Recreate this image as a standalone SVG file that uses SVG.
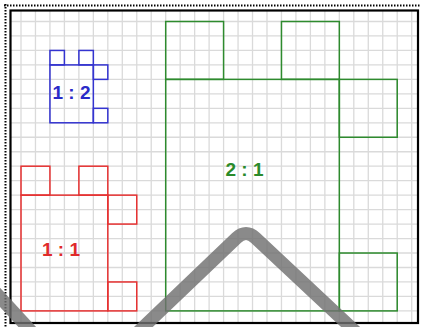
<svg xmlns="http://www.w3.org/2000/svg" width="421" height="327" viewBox="0 0 421 327">
  <style>
    .grid line { stroke: #dadada; stroke-width: 1.3; }
    .shape rect { fill: none; stroke-width: 1.5; }
    .blue rect { stroke: #3434d0; }
    .red rect { stroke: #e63232; }
    .green rect { stroke: #2e8b2e; }
    .lbl { font-family: "Liberation Sans", Arial, sans-serif; font-weight: bold; font-size: 19px; text-anchor: middle; }
    .band { fill: none; stroke: #707070; stroke-opacity: 0.82; stroke-width: 13; stroke-linecap: butt; stroke-linejoin: round; }
  </style>
  <rect x="0" y="0" width="421" height="327" fill="#ffffff"/>
  <!-- dotted outer frame (top and left) -->
  <line x1="4" y1="5.5" x2="421" y2="5.5" stroke="#000" stroke-width="2" stroke-dasharray="1.5 1.5"/>
  <line x1="5.5" y1="4" x2="5.5" y2="327" stroke="#000" stroke-width="2" stroke-dasharray="1.5 1.5"/>
  <!-- grid -->
  <g class="grid">
    <line x1="21" y1="10" x2="21" y2="323"/>
    <line x1="35.47" y1="10" x2="35.47" y2="323"/>
    <line x1="49.94" y1="10" x2="49.94" y2="323"/>
    <line x1="64.41" y1="10" x2="64.41" y2="323"/>
    <line x1="78.88" y1="10" x2="78.88" y2="323"/>
    <line x1="93.35" y1="10" x2="93.35" y2="323"/>
    <line x1="107.82" y1="10" x2="107.82" y2="323"/>
    <line x1="122.29" y1="10" x2="122.29" y2="323"/>
    <line x1="136.76" y1="10" x2="136.76" y2="323"/>
    <line x1="151.23" y1="10" x2="151.23" y2="323"/>
    <line x1="165.7" y1="10" x2="165.7" y2="323"/>
    <line x1="180.17" y1="10" x2="180.17" y2="323"/>
    <line x1="194.64" y1="10" x2="194.64" y2="323"/>
    <line x1="209.11" y1="10" x2="209.11" y2="323"/>
    <line x1="223.58" y1="10" x2="223.58" y2="323"/>
    <line x1="238.05" y1="10" x2="238.05" y2="323"/>
    <line x1="252.52" y1="10" x2="252.52" y2="323"/>
    <line x1="266.99" y1="10" x2="266.99" y2="323"/>
    <line x1="281.46" y1="10" x2="281.46" y2="323"/>
    <line x1="295.93" y1="10" x2="295.93" y2="323"/>
    <line x1="310.4" y1="10" x2="310.4" y2="323"/>
    <line x1="324.87" y1="10" x2="324.87" y2="323"/>
    <line x1="339.34" y1="10" x2="339.34" y2="323"/>
    <line x1="353.81" y1="10" x2="353.81" y2="323"/>
    <line x1="368.28" y1="10" x2="368.28" y2="323"/>
    <line x1="382.75" y1="10" x2="382.75" y2="323"/>
    <line x1="397.22" y1="10" x2="397.22" y2="323"/>
    <line x1="411.69" y1="10" x2="411.69" y2="323"/>
    <line x1="10" y1="21.5" x2="418" y2="21.5"/>
    <line x1="10" y1="35.97" x2="418" y2="35.97"/>
    <line x1="10" y1="50.44" x2="418" y2="50.44"/>
    <line x1="10" y1="64.91" x2="418" y2="64.91"/>
    <line x1="10" y1="79.38" x2="418" y2="79.38"/>
    <line x1="10" y1="93.85" x2="418" y2="93.85"/>
    <line x1="10" y1="108.32" x2="418" y2="108.32"/>
    <line x1="10" y1="122.79" x2="418" y2="122.79"/>
    <line x1="10" y1="137.26" x2="418" y2="137.26"/>
    <line x1="10" y1="151.73" x2="418" y2="151.73"/>
    <line x1="10" y1="166.2" x2="418" y2="166.2"/>
    <line x1="10" y1="180.67" x2="418" y2="180.67"/>
    <line x1="10" y1="195.14" x2="418" y2="195.14"/>
    <line x1="10" y1="209.61" x2="418" y2="209.61"/>
    <line x1="10" y1="224.08" x2="418" y2="224.08"/>
    <line x1="10" y1="238.55" x2="418" y2="238.55"/>
    <line x1="10" y1="253.02" x2="418" y2="253.02"/>
    <line x1="10" y1="267.49" x2="418" y2="267.49"/>
    <line x1="10" y1="281.96" x2="418" y2="281.96"/>
    <line x1="10" y1="296.43" x2="418" y2="296.43"/>
    <line x1="10" y1="310.9" x2="418" y2="310.9"/>
  </g>
  <!-- inner black frame -->
  <rect x="10.5" y="10.5" width="407.5" height="312.5" fill="none" stroke="#000" stroke-width="2.2"/>

  <g id="shape-1-2" class="shape blue">
    <rect x="49.94" y="50.44" width="14.47" height="14.47"/>
    <rect x="78.88" y="50.44" width="14.47" height="14.47"/>
    <rect x="49.94" y="64.91" width="43.41" height="57.88"/>
    <rect x="93.35" y="64.91" width="14.47" height="14.47"/>
    <rect x="93.35" y="108.32" width="14.47" height="14.47"/>
    <text class="lbl" x="71.5" y="99" fill="#2a2ac8">1 : 2</text>
  </g>

  <g id="shape-1-1" class="shape red">
    <rect x="21" y="166.2" width="28.94" height="28.94"/>
    <rect x="78.88" y="166.2" width="28.94" height="28.94"/>
    <rect x="21" y="195.14" width="86.82" height="115.76"/>
    <rect x="107.82" y="195.14" width="28.94" height="28.94"/>
    <rect x="107.82" y="281.96" width="28.94" height="28.94"/>
    <text class="lbl" x="61" y="256" fill="#e02a2a">1 : 1</text>
  </g>

  <g id="shape-2-1" class="shape green">
    <rect x="165.7" y="21.5" width="57.88" height="57.88"/>
    <rect x="281.46" y="21.5" width="57.88" height="57.88"/>
    <rect x="165.7" y="79.38" width="173.64" height="231.52"/>
    <rect x="339.34" y="79.38" width="57.88" height="57.88"/>
    <rect x="339.34" y="253.02" width="57.88" height="57.88"/>
    <text class="lbl" x="244.5" y="176" fill="#2a8a2a">2 : 1</text>
  </g>

  <g id="connectors">
    <path class="band" d="M 135 335 L 236.5 238 Q 246 229 255.5 238 L 357 333"/>
    <path class="band" d="M -10 286.6 L 42 343"/>
  </g>
</svg>
